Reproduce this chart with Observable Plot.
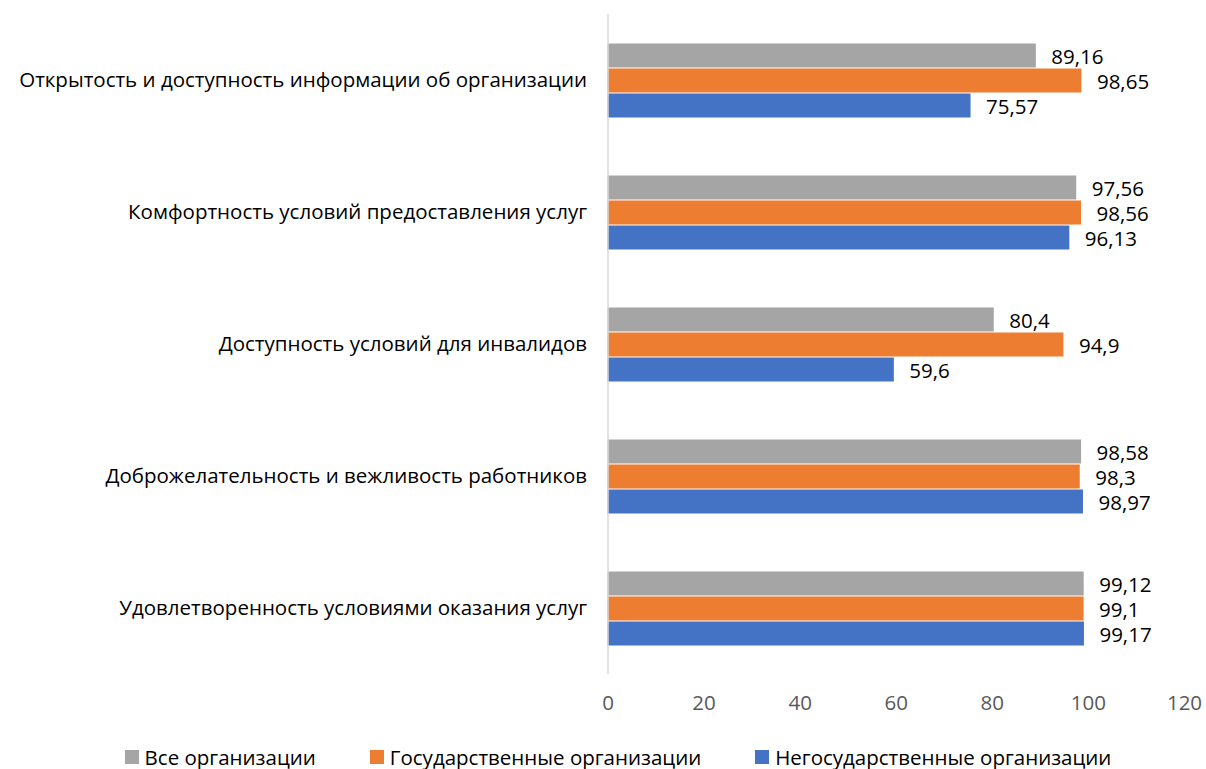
<!DOCTYPE html>
<html><head><meta charset="utf-8">
<script src="https://cdn.jsdelivr.net/npm/d3@7"></script>
<script src="https://cdn.jsdelivr.net/npm/@observablehq/plot@0.6"></script>
<style>
body{margin:0;background:#fff;font-family:"Open Sans", sans-serif;overflow:hidden;}
#chart{position:absolute;left:0;top:0;}
#chart svg{display:block;}
#legend{position:absolute;left:15px;top:747px;width:1206px;height:20px;display:flex;justify-content:center;align-items:center;font-size:20.5px;line-height:20px;color:#000;}
.item{display:flex;align-items:center;margin:0 27px;}
.sw{width:14px;height:14px;margin-right:6px;}
</style></head>
<body><div id="chart"></div><div id="legend"></div>
<script>
const categories = [
  "Открытость и доступность информации об организации",
  "Комфортность условий предоставления услуг",
  "Доступность условий для инвалидов",
  "Доброжелательность и вежливость работников",
  "Удовлетворенность условиями оказания услуг"
];
const series = ["Все организации", "Государственные организации", "Негосударственные организации"];
const allOrgs = [89.16, 97.56, 80.4, 98.58, 99.12];
const stateOrgs = [98.65, 98.56, 94.9, 98.3, 99.1];
const nonStateOrgs = [75.57, 96.13, 59.6, 98.97, 99.17];
const colors = ["#A5A5A5", "#ED7D31", "#4472C4"];
const xTicks = [0, 20, 40, 60, 80, 100, 120];

const seriesValues = [allOrgs, stateOrgs, nonStateOrgs];
const data = [];
categories.forEach((c, i) => series.forEach((s, j) => data.push({cat: c, series: s, value: seriesValues[j][i]})));
const fmt = v => String(v).replace(".", ",");

const chart = Plot.plot({
  width: 1206, height: 730,
  marginLeft: 607.5, marginRight: 22, marginTop: 12, marginBottom: 55,
  style: {fontFamily: "'Open Sans', sans-serif", fontSize: "20.5px", color: "#000"},
  x: {domain: [0, 120], ticks: xTicks, tickSize: 0, tickPadding: 21, label: null},
  y: {domain: series, axis: null, paddingInner: 0, paddingOuter: 1.08},
  fy: {domain: categories, padding: 0, label: null, tickSize: 0, tickPadding: 21},
  color: {domain: series, range: colors},
  marks: [
    Plot.barX(data, {fy: "cat", y: "series", x: "value", fill: "series", insetTop: 0.5, insetBottom: 0.5}),
    Plot.text(data, {fy: "cat", y: "series", x: "value", text: d => fmt(d.value), textAnchor: "start", dx: 15, dy: 1, fill: "#000", fontSize: 20.5}),
    Plot.ruleX([0], {stroke: "#D9D9D9", strokeWidth: 1.5})
  ]
});
document.getElementById("chart").appendChild(chart);
const xl = chart.querySelector("g[aria-label='x-axis tick label']");
if (xl) xl.setAttribute("fill", "#595959");

const legend = document.getElementById("legend");
series.forEach((s, i) => {
  const it = document.createElement("div"); it.className = "item";
  const sw = document.createElement("div"); sw.className = "sw"; sw.style.background = colors[i];
  const tx = document.createElement("span"); tx.textContent = s;
  it.appendChild(sw); it.appendChild(tx); legend.appendChild(it);
});
</script></body></html>
